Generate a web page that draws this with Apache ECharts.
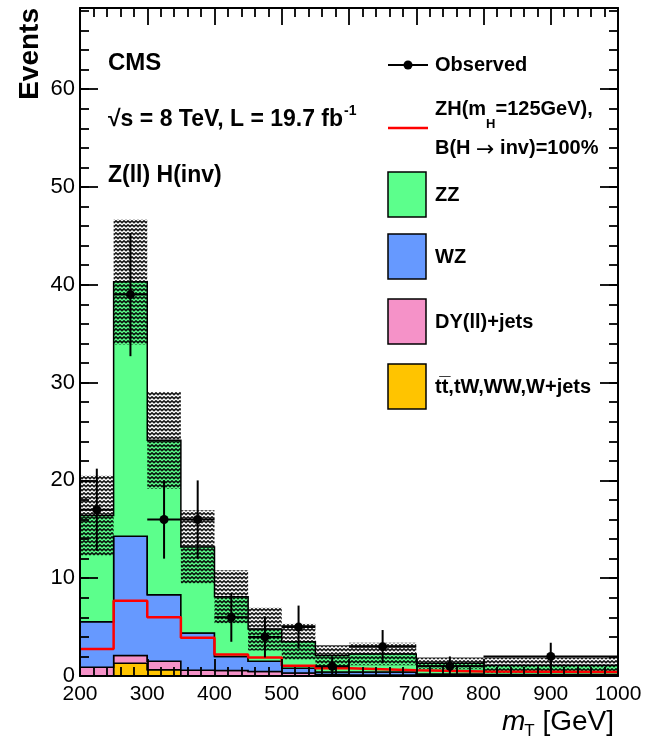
<!DOCTYPE html>
<html>
<head>
<meta charset="utf-8">
<script src="https://cdn.jsdelivr.net/npm/echarts@6/dist/echarts.min.js"></script>
<style>
  html, body { margin: 0; padding: 0; background: #ffffff; }
  #chart { width: 645px; height: 745px; }
</style>
</head>
<body>
<div id="chart"></div>
<script>
// Bin edges in mT [GeV]
const binEdges = [200, 250, 300, 350, 400, 450, 500, 550, 600, 700, 800, 1000];

// Expected background yields per bin (stacked bottom to top)
const ttbarOther = [0.0, 1.3, 0.65, 0.0, 0.0, 0.0, 0.0, 0.0, 0.0, 0.0, 0.0];
const dyJets     = [0.9, 0.8, 0.85, 0.6, 0.55, 0.45, 0.3, 0.15, 0.1, 0.05, 0.05];
const wzYield    = [4.65, 12.2, 6.8, 3.8, 1.45, 1.05, 0.5, 0.25, 0.3, 0.15, 0.1];
const zzYield    = [10.85, 26.0, 15.8, 8.8, 6.1, 3.3, 2.7, 1.7, 1.85, 1.1, 0.95];

// Total background uncertainty (symmetric, events)
const bkgUnc     = [4.1, 6.4, 4.95, 3.75, 2.7, 2.2, 1.85, 1.05, 1.15, 0.6, 0.8];

// ZH(125), B(H->inv)=100% signal, drawn unstacked
const signalZH   = [2.75, 7.7, 6.0, 3.9, 2.2, 1.9, 1.05, 0.78, 0.6, 0.45, 0.4];

// Data
const observed   = [17, 39, 16, 16, 6, 4, 5, 1, 3, 1, 2];
const observedErr = [4.2, 6.3, 4.0, 4.0, 2.5, 2.1, 2.2, 1.0, 1.7, 1.0, 1.4];

// Axis tick labels
const xTickLabels = [200, 300, 400, 500, 600, 700, 800, 900, 1000];
const yTickLabels = [0, 10, 20, 30, 40, 50, 60];

const FONT = '"Liberation Sans", Arial, Helvetica, sans-serif';
const nBins = binEdges.length - 1;
const binLo = binEdges.slice(0, -1);
const binHi = binEdges.slice(1);

const components = [
  { name: 'tt,tW,WW,W+jets', values: ttbarOther, color: '#ffc400' },
  { name: 'DY(ll)+jets',     values: dyJets,     color: '#f592c8' },
  { name: 'WZ',              values: wzYield,    color: '#6699ff' },
  { name: 'ZZ',              values: zzYield,    color: '#5cff8c' }
];

// cumulative stack levels
const levels = [binLo.map(() => 0)];
components.forEach(c => {
  const prev = levels[levels.length - 1];
  levels.push(prev.map((v, i) => v + c.values[i]));
});
const totalBkg = levels[levels.length - 1];

// hatch texture for the uncertainty band
function makeHatch() {
  const c = document.createElement('canvas');
  c.width = 8; c.height = 4;
  const g = c.getContext('2d');
  g.strokeStyle = 'rgba(0,0,0,0.9)';
  g.lineWidth = 1.7;
  g.beginPath();
  for (let x = -2; x <= 10; x += 2) {
    const y = (((x % 4) + 4) % 4 === 0) ? 0.9 : 2.6;
    if (x === -2) g.moveTo(x, y); else g.lineTo(x, y);
  }
  g.stroke();
  return c;
}
const hatch = { image: makeHatch(), repeat: 'repeat' };

function stackSeries(k) {
  const bottom = levels[k], top = levels[k + 1];
  const comp = components[k];
  return {
    type: 'custom',
    name: comp.name,
    xAxisIndex: 0, yAxisIndex: 0,
    z: 2,
    clip: true,
    silent: true,
    data: [[binEdges[0], 0]],
    renderItem: function (params, api) {
      const pts = [];
      for (let i = 0; i < nBins; i++) {
        pts.push(api.coord([binLo[i], top[i]]));
        pts.push(api.coord([binHi[i], top[i]]));
      }
      for (let i = nBins - 1; i >= 0; i--) {
        pts.push(api.coord([binHi[i], bottom[i]]));
        pts.push(api.coord([binLo[i], bottom[i]]));
      }
      return {
        type: 'polygon',
        shape: { points: pts },
        style: { fill: comp.color, stroke: '#000', lineWidth: 1.5, lineJoin: 'miter' }
      };
    }
  };
}

const series = components.map((c, k) => stackSeries(k));

// uncertainty band
series.push({
  type: 'custom',
  name: 'Bkg. uncertainty',
  xAxisIndex: 0, yAxisIndex: 0,
  z: 3, clip: true, silent: true,
  data: binLo.map((lo, i) => [lo, binHi[i], totalBkg[i] - bkgUnc[i], totalBkg[i] + bkgUnc[i]]),
  encode: { x: [0, 1], y: [2, 3] },
  renderItem: function (params, api) {
    const p0 = api.coord([api.value(0), api.value(3)]);
    const p1 = api.coord([api.value(1), Math.max(0, api.value(2))]);
    return {
      type: 'rect',
      shape: { x: p0[0], y: p0[1], width: p1[0] - p0[0], height: p1[1] - p0[1] },
      style: { fill: hatch }
    };
  }
});

// signal step line
series.push({
  type: 'line',
  name: 'ZH',
  xAxisIndex: 0, yAxisIndex: 0,
  step: 'end',
  z: 4, silent: true,
  symbol: 'none',
  data: binLo.map((lo, i) => [lo, signalZH[i]]).concat([[binEdges[nBins], signalZH[nBins - 1]]]),
  lineStyle: { color: '#ff0000', width: 2.5 }
});

// observed points with error bars
series.push({
  type: 'custom',
  name: 'Observed',
  xAxisIndex: 0, yAxisIndex: 0,
  z: 5, clip: true, silent: true,
  data: binLo.map((lo, i) => [(lo + binHi[i]) / 2, observed[i], observedErr[i], lo, binHi[i]]),
  encode: { x: 0, y: 1 },
  renderItem: function (params, api) {
    const xc = api.value(0), y = api.value(1), e = api.value(2);
    const c = api.coord([xc, y]);
    const t = api.coord([xc, y + e]);
    const b = api.coord([xc, Math.max(0, y - e)]);
    const l = api.coord([api.value(3), y]);
    const r = api.coord([api.value(4), y]);
    return {
      type: 'group',
      children: [
        { type: 'line', shape: { x1: t[0], y1: t[1], x2: b[0], y2: b[1] }, style: { stroke: '#000', lineWidth: 2 } },
        { type: 'line', shape: { x1: l[0], y1: l[1], x2: r[0], y2: r[1] }, style: { stroke: '#000', lineWidth: 2 } },
        { type: 'circle', shape: { cx: c[0], cy: c[1], r: 4.5 }, style: { fill: '#000' } }
      ]
    };
  }
});

// axes: long major ticks and short minor ticks on all four sides, drawn inside
const tickStyle = { color: '#000', width: 1.8 };
const xBase = {
  type: 'value', min: binEdges[0], max: binEdges[nBins], interval: 100,
  splitLine: { show: false }, z: 10,
  axisLine: { show: true, onZero: false, lineStyle: { color: '#000', width: 2 } },
  axisTick: { inside: true, length: 17, lineStyle: tickStyle },
  minorTick: { show: true, splitNumber: 5, length: 9, lineStyle: tickStyle }
};
const xAxes = [
  Object.assign({}, xBase, {
    position: 'bottom',
    axisLabel: {
      color: '#000', fontSize: 21, fontFamily: FONT, margin: 8,
      formatter: v => (xTickLabels.indexOf(v) >= 0 ? String(v) : '')
    }
  }),
  Object.assign({}, xBase, { position: 'top', axisLabel: { show: false } })
];

const yTop = 68.3;
function yAxisDef(pos, major, showLine) {
  return {
    type: 'value', min: 0, max: yTop, position: pos,
    interval: major ? 10 : 2,
    splitLine: { show: false }, z: 10,
    axisLine: { show: showLine, onZero: false, lineStyle: { color: '#000', width: 2 } },
    axisTick: { inside: true, length: major ? 18 : 9, lineStyle: tickStyle },
    axisLabel: (major && pos === 'left') ? {
      color: '#000', fontSize: 22, fontFamily: FONT, margin: 5, showMaxLabel: false,
      formatter: v => (yTickLabels.indexOf(v) >= 0 ? String(v) : '')
    } : { show: false }
  };
}
const yAxes = [
  yAxisDef('left', true, true),
  yAxisDef('left', false, false),
  yAxisDef('right', true, true),
  yAxisDef('right', false, false)
];

// text helpers
const mctx = document.createElement('canvas').getContext('2d');
function tw(str, size, weight, family) {
  mctx.font = (weight || 'normal') + ' ' + size + 'px ' + (family || FONT);
  return mctx.measureText(str).width;
}
function txt(str, x, y, size, opts) {
  opts = opts || {};
  return {
    type: 'text', x: x, y: y, z: 20, silent: true,
    rotation: opts.rotation || 0,
    style: {
      text: str, fill: '#000', fontSize: size, fontFamily: opts.family || FONT,
      fontWeight: opts.weight || 'bold', fontStyle: opts.style || 'normal',
      align: opts.align || 'left', verticalAlign: opts.valign || 'middle'
    }
  };
}

const graphics = [];
// axis titles
graphics.push(txt('Events', 30, 8, 28, { rotation: Math.PI / 2, align: 'right' }));
(function () {
  const right = 614, yT = 722, fs = 28;
  const wRest = tw(' [GeV]', fs, 'normal');
  const wSub = tw('T', 17, 'normal');
  const wM = tw('m', fs, 'normal');
  const xRest = right - wRest;
  const xSub = xRest - wSub;
  const xM = xSub - wM + 1;
  graphics.push(txt('m', xM, yT, fs, { weight: 'normal', style: 'italic' }));
  graphics.push(txt('T', xSub, yT + 9, 17, { weight: 'normal' }));
  graphics.push(txt(' [GeV]', xRest, yT, fs, { weight: 'normal' }));
})();

// inner labels
graphics.push(txt('CMS', 108, 63, 24));
(function () {
  const s = '\u221As = 8 TeV, L = 19.7 fb';
  graphics.push(txt(s, 108, 120, 23));
  const w = tw(s, 23, 'bold');
  graphics.push(txt('-1', 108 + w + 1, 111, 14));
})();
graphics.push(txt('Z(ll) H(inv)', 108, 176, 23));

// legend
const legX = 388, legW = 38, legTextX = 435, legFs = 20;
graphics.push({ type: 'line', z: 20, silent: true, shape: { x1: legX, y1: 65, x2: legX + 40, y2: 65 }, style: { stroke: '#000', lineWidth: 2 } });
graphics.push({ type: 'circle', z: 20, silent: true, shape: { cx: legX + 20, cy: 65, r: 4.5 }, style: { fill: '#000' } });
graphics.push(txt('Observed', legTextX, 65, legFs));

(function () {
  const a = 'ZH(m';
  const wa = tw(a, legFs, 'bold');
  graphics.push(txt(a, legTextX, 109, legFs));
  graphics.push(txt('H', legTextX + wa, 124, 13));
  const wh = tw('H', 13, 'bold');
  graphics.push(txt('=125GeV),', legTextX + wa + wh, 109, legFs));
  graphics.push({ type: 'line', z: 20, silent: true, shape: { x1: legX, y1: 128, x2: legX + 40, y2: 128 }, style: { stroke: '#ff0000', lineWidth: 2.5 } });
  // second line: B(H -> inv)=100%, arrow set in DejaVu for a full-size glyph
  const p1 = 'B(H ', arrow = '\u2192', p2 = ' inv)=100%';
  const ARW = '"DejaVu Sans", sans-serif';
  const w1 = tw(p1, legFs, 'bold');
  const wArrow = tw(arrow, 22, 'normal', ARW);
  graphics.push(txt(p1, legTextX, 148, legFs));
  graphics.push(txt(arrow, legTextX + w1, 150, 22, { weight: 'normal', family: ARW }));
  graphics.push(txt(p2, legTextX + w1 + wArrow, 148, legFs));
})();

const boxRows = [
  { comp: components[3], top: 172, label: 'ZZ' },
  { comp: components[2], top: 234, label: 'WZ' },
  { comp: components[1], top: 299, label: 'DY(ll)+jets' },
  { comp: components[0], top: 364, label: 'tt\u0305,tW,WW,W+jets' }
];
boxRows.forEach(r => {
  graphics.push({
    type: 'rect', z: 20, silent: true,
    shape: { x: legX, y: r.top, width: legW, height: 45 },
    style: { fill: r.comp.color, stroke: '#000', lineWidth: 1.5 }
  });
  graphics.push(txt(r.label, legTextX, r.top + 23, legFs));
});

const chart = echarts.init(document.getElementById('chart'), null, { renderer: 'canvas' });
chart.setOption({
  animation: false,
  backgroundColor: '#ffffff',
  grid: { left: 80, right: 27, top: 8, bottom: 69, containLabel: false },
  xAxis: xAxes,
  yAxis: yAxes,
  series: series,
  graphic: graphics
});
</script>
</body>
</html>
